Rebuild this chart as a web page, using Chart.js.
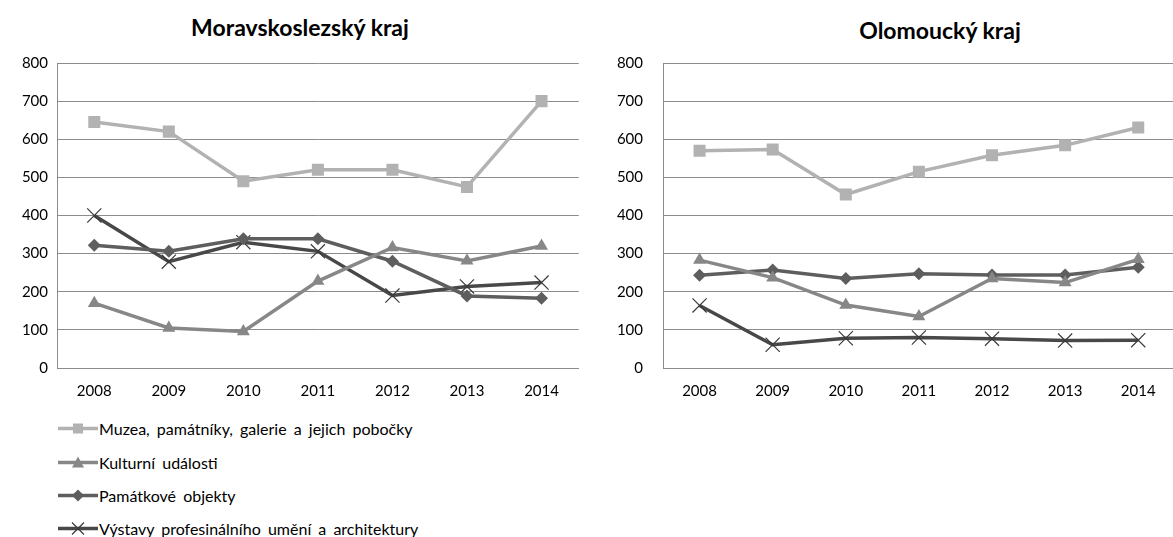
<!DOCTYPE html>
<html>
<head>
<meta charset="utf-8">
<script src="https://cdn.jsdelivr.net/npm/chart.js@4.4.1/dist/chart.umd.min.js"></script>
<style>
  html, body { margin: 0; padding: 0; background: #fff; overflow: hidden; width: 1173px; height: 537px; font-family: Lato, sans-serif; }
  .box { position: absolute; top: 0; }
  .title { position: absolute; font-weight: bold; font-size: 23px; color: #000; transform: translate(-50%, -50%); white-space: nowrap; }
  .lg { position: absolute; left: 58px; display: flex; align-items: center; white-space: nowrap; font-size: 16px; word-spacing: 3px; color: #000; transform: translateY(-50%); }
  .lg svg { margin-right: 1px; }
</style>
</head>
<body>
<div class="title" style="left:300px; top:27px;">Moravskoslezský kraj</div>
<div class="title" style="left:940px; top:30px;">Olomoucký kraj</div>
<div class="box" style="left:0; width:590px; height:400px;"><canvas id="chart-ms" width="590" height="400"></canvas></div>
<div class="box" style="left:590px; width:596px; height:400px;"><canvas id="chart-ol" width="596" height="400"></canvas></div>
<div id="legend"></div>

<script>
// years on the x axis
const years = ['2008', '2009', '2010', '2011', '2012', '2013', '2014'];
const seriesNames = [
  'Muzea, památníky, galerie a jejich pobočky',
  'Kulturní události',
  'Památkové objekty',
  'Výstavy profesinálního umění a architektury'
];
const yTicks = [0, 100, 200, 300, 400, 500, 600, 700, 800];

// Moravskoslezský kraj
const msMuzea     = [645, 620, 490, 520, 520, 475, 700];
const msKultura   = [170, 105,  96, 228, 316, 281, 320];
const msPamatky   = [322, 306, 339, 339, 280, 189, 183];
const msVystavy   = [400, 279, 330, 306, 190, 214, 224];

// Olomoucký kraj
const olMuzea     = [570, 573, 455, 515, 558, 584, 631];
const olKultura   = [283, 237, 165, 135, 235, 224, 285];
const olPamatky   = [243, 257, 235, 247, 244, 244, 264];
const olVystavy   = [164,  61,  78,  80,  77,  72,  73];

const styles = [
  { color: '#b2b2b2', point: 'rect',    radius: 8.5, pb: '#b2b2b2', pw: 0 },
  { color: '#878787', point: 'triangle', radius: 7.5, pb: '#878787', pw: 0 },
  { color: '#5e5e5e', point: 'rectRot', radius: 6.5, pb: '#5e5e5e', pw: 0 },
  { color: '#484848', point: 'crossRot', radius: 10,  pb: '#3a3a3a', pw: 1.2 }
];

function mkDatasets(values) {
  return values.map((v, i) => ({
    label: seriesNames[i],
    data: v,
    borderColor: styles[i].color,
    backgroundColor: styles[i].color,
    borderWidth: 3.5,
    tension: 0,
    pointStyle: styles[i].point,
    pointRadius: styles[i].radius,
    pointHoverRadius: styles[i].radius,
    pointBackgroundColor: styles[i].color,
    pointBorderColor: styles[i].pb,
    pointBorderWidth: styles[i].pw
  }));
}

function mkLine(el, values, yWidth, yPad, rightPad) {
  return new Chart(el, {
    type: 'line',
    data: { labels: years, datasets: mkDatasets(values) },
    options: {
      responsive: false,
      animation: false,
      devicePixelRatio: 1,
      layout: { padding: { top: 63, right: rightPad, bottom: 0, left: 0 } },
      plugins: { legend: { display: false }, title: { display: false }, tooltip: { enabled: false } },
      scales: {
        x: {
          offset: true,
          grid: { display: false, drawTicks: false },
          border: { display: true, color: '#8c8c8c', width: 1 },
          ticks: { color: '#000', font: { family: 'Lato', size: 15 }, padding: 14, maxRotation: 0 },
          afterFit: (s) => { s.height = 32; }
        },
        y: {
          min: 0, max: 800,
          afterBuildTicks: (s) => { s.ticks = yTicks.map(v => ({ value: v })); },
          grid: { color: '#8c8c8c', lineWidth: 1, drawTicks: false },
          border: { display: true, color: '#8c8c8c', width: 1 },
          ticks: { color: '#000', font: { family: 'Lato', size: 15 }, padding: yPad },
          afterFit: (s) => { s.width = yWidth; }
        }
      }
    }
  });
}

mkLine(document.getElementById('chart-ms'), [msMuzea, msKultura, msPamatky, msVystavy], 57, 9, 7);
mkLine(document.getElementById('chart-ol'), [olMuzea, olKultura, olPamatky, olVystavy], 73, 20, 0);

// legend below the left chart
function markerSvg(i) {
  const c = styles[i].color;
  let m = '';
  if (i === 0) m = '<rect x="15" y="3" width="10" height="10" fill="' + c + '"/>';
  if (i === 1) m = '<polygon points="20,2 26,13 14,13" fill="' + c + '"/>';
  if (i === 2) m = '<polygon points="20,2 26,8 20,14 14,8" fill="' + c + '"/>';
  if (i === 3) m = '<path d="M14,2 L26,14 M26,2 L14,14" stroke="#3a3a3a" stroke-width="1.2"/>';
  return '<svg width="40" height="16"><line x1="0" y1="8" x2="40" y2="8" stroke="' + c + '" stroke-width="3.5"/>' + m + '</svg>';
}
const legendRows = [428, 462, 495, 528];
const lg = document.getElementById('legend');
seriesNames.forEach((name, i) => {
  const d = document.createElement('div');
  d.className = 'lg';
  d.style.top = legendRows[i] + 'px';
  d.innerHTML = markerSvg(i) + '<span>' + name + '</span>';
  lg.appendChild(d);
});
</script>
</body>
</html>
